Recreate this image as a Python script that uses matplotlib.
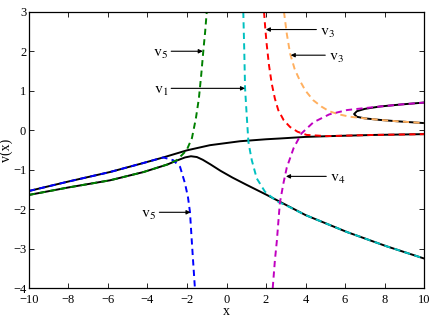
import matplotlib
matplotlib.use('Agg')
import matplotlib.pyplot as plt

plt.rcParams['font.family'] = ['Liberation Serif', 'DejaVu Serif']
plt.rcParams['mathtext.fontset'] = 'stix'

# black solid branches
upper_x = [-10, -8, -5.9, -4.2, -3.2, -2.0, -0.84, 0.68, 2.0, 2.71, 4.0, 5.24, 7.5, 10]
upper_y = [-1.54, -1.3, -1.06, -0.83, -0.69, -0.51, -0.38, -0.28, -0.23, -0.21, -0.17, -0.15, -0.12, -0.1]
lower_x = [-10, -8, -5.9, -4.2, -3.0, -2.52, -2.1, -1.8, -1.5, -1.2, -0.8, -0.3, 0.3, 1.0, 2.0, 3.0, 4.0, 6.1, 8.1, 10]
lower_y = [-1.64, -1.45, -1.27, -1.06, -0.87, -0.77, -0.69, -0.66, -0.68, -0.75, -0.87, -1.03, -1.2, -1.38, -1.63, -1.89, -2.15, -2.58, -2.94, -3.25]
loop_x = [10, 8.8, 7.77, 7.0, 6.6, 6.46, 6.6, 7.0, 7.77, 8.8, 10]
loop_y = [0.7, 0.65, 0.6, 0.54, 0.48, 0.41, 0.34, 0.3, 0.26, 0.22, 0.18]

# dashed branches
blue_x = [-10, -8, -5.9, -4.2, -3.2, -2.7, -2.35, -2.1, -1.95, -1.85, -1.76, -1.68, -1.6]
blue_y = [-1.54, -1.3, -1.06, -0.83, -0.69, -0.76, -0.93, -1.35, -1.7, -2.07, -2.79, -3.4, -4.0]
green_x = [-10, -8, -5.9, -4.2, -3.0, -2.52, -2.02, -1.75, -1.55, -1.4, -1.28, -1.17, -1.08, -1.0]
green_y = [-1.64, -1.45, -1.27, -1.06, -0.87, -0.76, -0.51, -0.2, 0.3, 0.8, 1.4, 2.03, 2.5, 3.0]
cyan_x = [0.85, 0.9, 0.94, 1.02, 1.11, 1.2, 1.28, 1.53, 1.95, 2.54, 3.0, 4.0, 6.1, 8.1, 10]
cyan_y = [3.0, 2.0, 1.06, 0.4, -0.3, -0.55, -0.76, -1.22, -1.56, -1.8, -1.9, -2.15, -2.58, -2.94, -3.25]
red_x = [1.9, 1.96, 2.03, 2.15, 2.29, 2.45, 2.62, 2.9, 3.22, 3.6, 4.06, 5.07, 7.5, 10]
red_y = [3.0, 2.6, 2.2, 1.65, 1.18, 0.8, 0.51, 0.25, 0.08, -0.04, -0.12, -0.15, -0.12, -0.1]
orange_x = [2.91, 3.05, 3.22, 3.45, 3.72, 4.0, 4.39, 4.8, 5.2, 5.7, 6.25, 7.0, 7.77, 8.8, 10]
orange_y = [3.0, 2.45, 1.94, 1.55, 1.25, 1.0, 0.76, 0.6, 0.48, 0.4, 0.34, 0.3, 0.26, 0.22, 0.18]
magenta_x = [2.34, 2.45, 2.55, 2.7, 2.88, 3.05, 3.4, 3.8, 4.4, 5.2, 6.1, 7.0, 7.77, 8.8, 10]
magenta_y = [-4.0, -3.3, -2.8, -1.85, -1.35, -0.95, -0.45, -0.08, 0.2, 0.4, 0.51, 0.56, 0.6, 0.65, 0.7]

# annotations: subscript, arrow tail, arrow head
notes = [
    ('5', (-2.8, 2.0), (-1.2, 2.0)),
    ('1', (-2.8, 1.06), (0.94, 1.06)),
    ('3', (4.55, 2.55), (1.99, 2.55)),
    ('3', (5.0, 1.9), (3.25, 1.9)),
    ('4', (5.05, -1.17), (3.01, -1.17)),
    ('5', (-3.4, -2.08), (-1.82, -2.08)),
]

fig = plt.figure(figsize=(4.36, 3.27), dpi=100)
ax = fig.add_axes([0.0665, 0.119, 0.906, 0.845])

ax.plot(upper_x, upper_y, color='black', lw=1.4)
ax.plot(lower_x, lower_y, color='black', lw=1.4)
ax.plot(loop_x, loop_y, color='black', lw=1.4)

dash = dict(lw=1.4, linestyle=(0, (3.2, 2.2)))
ax.plot(blue_x, blue_y, color='#0000ff', **dash)
ax.plot(green_x, green_y, color='#008000', **dash)
ax.plot(cyan_x, cyan_y, color='#00c0c0', **dash)
ax.plot(red_x, red_y, color='#ff0000', **dash)
ax.plot(orange_x, orange_y, color='#ffb060', **dash)
ax.plot(magenta_x, magenta_y, color='#c000c0', **dash)

for sub, tail, head in notes:
    ax.annotate('', xy=head, xytext=tail,
                arrowprops=dict(arrowstyle='-|>', color='black', lw=0.8,
                                mutation_scale=6, shrinkA=0, shrinkB=0))
    if head[0] > tail[0]:
        ax.text(tail[0] - 0.15, tail[1] - 0.05, r'$\mathrm{v}_{%s}$' % sub,
                ha='right', va='center', fontsize=11.5)
    else:
        ax.text(tail[0] + 0.2, tail[1] - 0.05, r'$\mathrm{v}_{%s}$' % sub,
                ha='left', va='center', fontsize=11.5)

ax.set_xlim(-10, 10)
ax.set_ylim(-4, 3)
ax.set_xticks(range(-10, 11, 2))
ax.set_yticks(range(-4, 4))
ax.set_xticklabels([str(v).replace('-', '\u2212') for v in range(-10, 11, 2)])
ax.set_yticklabels([str(v).replace('-', '\u2212') for v in range(-4, 4)])
ax.tick_params(direction='in', top=True, right=True, length=3.5, width=0.6,
               labelsize=9)
ax.tick_params(axis='x', pad=4.5)
ax.tick_params(axis='y', pad=2)
for s in ax.spines.values():
    s.set_linewidth(0.9)
ax.set_xlabel('x', fontsize=10, labelpad=-1)
ax.set_ylabel('v(x)', fontsize=10, labelpad=0)

fig.savefig('out.png', dpi=100)
